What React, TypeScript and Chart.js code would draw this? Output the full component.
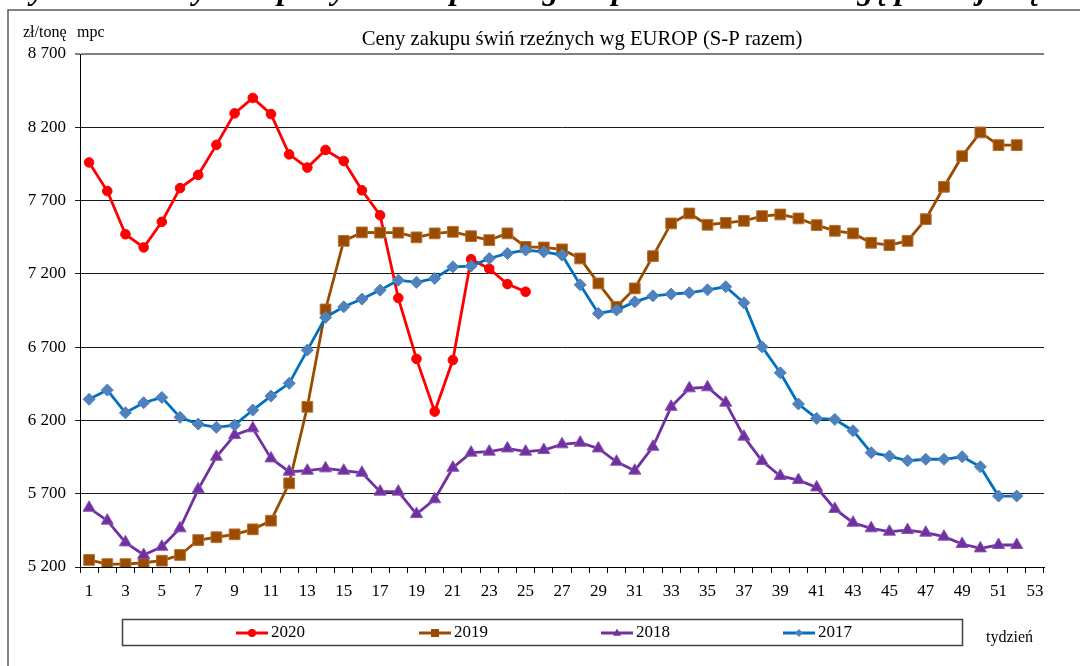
import React, { useEffect, useRef } from 'react';
import { Chart, registerables } from 'chart.js';

Chart.register(...registerables);

const weeks = ['1','2','3','4','5','6','7','8','9','10','11','12','13','14','15','16','17','18','19','20','21','22','23','24','25','26','27','28','29','30','31','32','33','34','35','36','37','38','39','40','41','42','43','44','45','46','47','48','49','50','51','52','53'];

const yMin = 5200;
const yMax = 8700;
const yStep = 500;

const s2020 = [7960, 7765, 7470, 7380, 7555, 7785, 7875, 8080, 8295, 8400, 8290, 8015, 7925, 8045, 7970, 7770, 7600, 7035, 6620, 6260, 6612, 7300, 7235, 7130, 7078];
const s2019 = [5248, 5220, 5220, 5229, 5243, 5282, 5384, 5403, 5423, 5457, 5516, 5771, 6293, 6957, 7425, 7483, 7481, 7481, 7449, 7476, 7487, 7457, 7430, 7476, 7384, 7380, 7367, 7305, 7135, 6975, 7101, 7321, 7544, 7612, 7535, 7548, 7562, 7594, 7605, 7578, 7532, 7494, 7476, 7412, 7396, 7425, 7573, 7794, 8003, 8165, 8078, 8078];
const s2018 = [5604, 5516, 5368, 5282, 5338, 5464, 5730, 5952, 6100, 6146, 5941, 5850, 5857, 5873, 5857, 5843, 5714, 5714, 5561, 5662, 5877, 5980, 5987, 6009, 5987, 5998, 6037, 6048, 6009, 5918, 5857, 6020, 6293, 6419, 6426, 6321, 6089, 5923, 5821, 5793, 5743, 5596, 5502, 5464, 5441, 5452, 5434, 5407, 5357, 5327, 5350, 5350];
const s2017 = [6344, 6407, 6252, 6321, 6357, 6221, 6175, 6153, 6168, 6271, 6366, 6453, 6680, 6903, 6975, 7028, 7089, 7157, 7142, 7169, 7248, 7253, 7305, 7339, 7362, 7350, 7328, 7125, 6930, 6953, 7009, 7050, 7062, 7071, 7091, 7112, 7003, 6702, 6525, 6312, 6214, 6207, 6130, 5980, 5957, 5925, 5935, 5935, 5952, 5884, 5684, 5684];

const seriesNames = ['2020', '2019', '2018', '2017'];
const heading = 'Wykres 1. Ceny zakupu żywca wieprzowego w przeliczeniu na wagę poubojową ciepłą w klasyfikacji EUROP';
const chartTitle = 'Ceny zakupu świń rzeźnych wg EUROP (S-P razem)';
const yUnitA = 'zł/tonę';
const yUnitB = 'mpc';
const xUnit = 'tydzień';

const SERIF = '"Liberation Serif", "DejaVu Serif", serif';

const fmt = (v: number) => String(v).replace(/\B(?=(\d{3})+(?!\d))/g, ' ');

function drawMarker(ctx: CanvasRenderingContext2D, style: string, x: number, y: number, r: number, fill: string) {
  ctx.save();
  ctx.fillStyle = fill;
  ctx.beginPath();
  if (style === 'circle') {
    ctx.arc(x, y, r, 0, Math.PI * 2);
  } else if (style === 'rect') {
    ctx.rect(x - r, y - r, 2 * r, 2 * r);
  } else if (style === 'triangle') {
    ctx.moveTo(x, y - r * 1.1);
    ctx.lineTo(x + r, y + r * 0.7);
    ctx.lineTo(x - r, y + r * 0.7);
    ctx.closePath();
  } else {
    ctx.moveTo(x, y - r);
    ctx.lineTo(x + r, y);
    ctx.lineTo(x, y + r);
    ctx.lineTo(x - r, y);
    ctx.closePath();
  }
  ctx.fill();
  ctx.restore();
}

const decor = {
  id: 'decor',
  beforeDraw(chart: any) {
    const ctx: CanvasRenderingContext2D = chart.ctx;
    ctx.save();
    ctx.fillStyle = '#ffffff';
    ctx.fillRect(0, 0, chart.width, chart.height);
    // heading, cut off by the top edge of the page (only descenders show)
    ctx.fillStyle = '#000';
    ctx.font = 'italic bold 32px ' + SERIF;
    ctx.textBaseline = 'alphabetic';
    ctx.textAlign = 'left';
    ctx.fillText(heading, 4, -1.5);
    // frame
    ctx.strokeStyle = '#5a5a5a';
    ctx.lineWidth = 1.5;
    ctx.beginPath();
    ctx.moveTo(8, chart.height + 2);
    ctx.lineTo(8, 10);
    ctx.lineTo(chart.width + 2, 10);
    ctx.stroke();
    ctx.restore();
  },
  afterDraw(chart: any) {
    const ctx: CanvasRenderingContext2D = chart.ctx;
    ctx.save();
    ctx.fillStyle = '#000';
    ctx.textBaseline = 'middle';
    ctx.textAlign = 'center';
    ctx.font = '20.7px ' + SERIF;
    ctx.fillText(chartTitle, 582, 40);
    ctx.textAlign = 'left';
    ctx.font = '16px ' + SERIF;
    ctx.fillText(yUnitA, 23, 33);
    ctx.fillText(yUnitB, 77, 33);
    ctx.fillText(xUnit, 986, 638);
    // legend box
    ctx.strokeStyle = '#404040';
    ctx.lineWidth = 1.5;
    ctx.strokeRect(122.5, 619.5, 840, 26);
    const ds = chart.data.datasets;
    const starts = [236, 419, 601, 783];
    const ly = 633;
    ctx.font = '17px ' + SERIF;
    for (let i = 0; i < 4; i++) {
      const d = ds.find((q: any) => q.label === seriesNames[i]);
      const x0 = starts[i];
      ctx.strokeStyle = d.borderColor;
      ctx.lineWidth = 3;
      ctx.beginPath();
      ctx.moveTo(x0, ly);
      ctx.lineTo(x0 + 32, ly);
      ctx.stroke();
      drawMarker(ctx, d.pointStyle, x0 + 16, ly, 4, d.pointBackgroundColor);
      ctx.fillStyle = '#000';
      ctx.fillText(seriesNames[i], x0 + 35, ly);
    }
    ctx.restore();
  },
};

export default function App() {
  const ref = useRef<HTMLCanvasElement>(null);
  useEffect(() => {
    if (!ref.current) return;
    Chart.defaults.font.family = SERIF;
    const chart = new Chart(ref.current, {
      type: 'line',
      data: {
        labels: weeks,
        datasets: [
          { label: seriesNames[0], data: s2020, borderColor: '#ff0000', backgroundColor: '#ff0000', pointBackgroundColor: '#ff0000', pointBorderColor: '#ff0000', pointStyle: 'circle', pointRadius: 4.8, pointBorderWidth: 1, borderWidth: 2.8, order: 3 },
          { label: seriesNames[1], data: s2019, borderColor: '#994c00', backgroundColor: '#994c00', pointBackgroundColor: '#994c00', pointBorderColor: '#b86e30', pointStyle: 'rect', pointRadius: 7.6, pointBorderWidth: 1, borderWidth: 2.8, order: 2 },
          { label: seriesNames[2], data: s2018, borderColor: '#7030a0', backgroundColor: '#7030a0', pointBackgroundColor: '#7030a0', pointBorderColor: '#8a55b5', pointStyle: 'triangle', pointRadius: 7, pointBorderWidth: 1, borderWidth: 2.8, order: 1 },
          { label: seriesNames[3], data: s2017, borderColor: '#0070c0', backgroundColor: '#4f81bd', pointBackgroundColor: '#4f81bd', pointBorderColor: '#4f81bd', pointStyle: 'rectRot', pointRadius: 6, pointBorderWidth: 1, borderWidth: 2.8, order: 0 },
        ],
      },
      options: {
        responsive: false,
        animation: false,
        events: [],
        layout: { padding: { left: 0, top: 54, right: 36, bottom: 0 } },
        plugins: { legend: { display: false }, title: { display: false }, tooltip: { enabled: false } },
        scales: {
          x: {
            type: 'category',
            offset: true,
            grid: { offset: true, drawOnChartArea: false, drawTicks: true, tickLength: 6, color: '#000', lineWidth: 1 },
            border: { display: true, color: '#000', width: 1 },
            ticks: {
              autoSkip: false, maxRotation: 0, minRotation: 0, padding: 8, color: '#000',
              font: { family: SERIF, size: 17 },
              callback: (_v: any, i: number) => (i % 2 === 0 ? weeks[i] : ''),
            },
            afterFit: (s: any) => { s.height = 99; },
          },
          y: {
            min: yMin, max: yMax,
            grid: {
              color: (c: any) => (c.tick && c.tick.value === yMax ? '#7f7f7f' : '#1a1a1a'),
              lineWidth: (c: any) => (c.tick && c.tick.value === yMax ? 2 : 1),
              tickLength: 5,
            },
            border: { display: true, color: '#000', width: 1 },
            ticks: {
              stepSize: yStep, padding: 9, color: '#000',
              font: { family: SERIF, size: 17 },
              callback: (v: any) => fmt(Number(v)),
            },
            afterFit: (s: any) => { s.width = 80; },
          },
        },
      },
      plugins: [decor],
    });
    return () => chart.destroy();
  }, []);
  return (
    <div style={{ position: 'fixed', left: 0, top: 0, width: 1080, height: 666, background: '#fff' }}>
      <canvas ref={ref} width={1080} height={666} style={{ display: 'block', width: 1080, height: 666 }} />
    </div>
  );
}
